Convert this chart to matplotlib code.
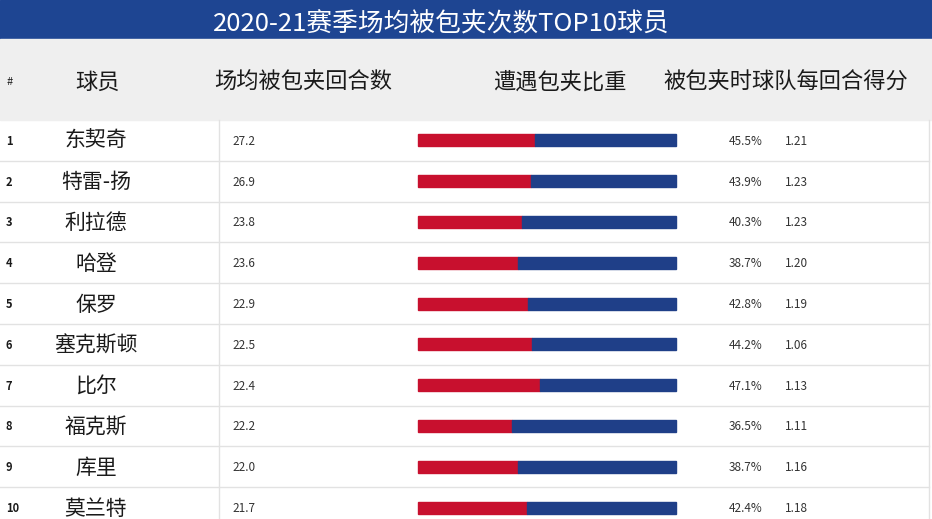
import matplotlib
matplotlib.use("Agg")
import matplotlib.pyplot as plt
from matplotlib.patches import Rectangle

plt.rcParams['font.family'] = ['Noto Sans CJK SC', 'DejaVu Sans']

title = '2020-21赛季场均被包夹次数TOP10球员'
headers = ['#', '球员', '场均被包夹回合数', '遭遇包夹比重', '被包夹时球队每回合得分']
ranks = [1, 2, 3, 4, 5, 6, 7, 8, 9, 10]
players = ['东契奇', '特雷-扬', '利拉德', '哈登', '保罗', '塞克斯顿', '比尔', '福克斯', '库里', '莫兰特']
double_poss = [27.2, 26.9, 23.8, 23.6, 22.9, 22.5, 22.4, 22.2, 22.0, 21.7]
double_pct = [45.5, 43.9, 40.3, 38.7, 42.8, 44.2, 47.1, 36.5, 38.7, 42.4]
team_ppp = [1.21, 1.23, 1.23, 1.20, 1.19, 1.06, 1.13, 1.11, 1.16, 1.18]

W, H = 932, 519
RED = '#c8102e'
BLUE = '#1f3f88'
LINE = '#e2e2e2'
TXT = '#1a1a1a'

fig = plt.figure(figsize=(W / 100, H / 100), dpi=100)
ax = fig.add_axes([0, 0, 1, 1])
ax.set_xlim(0, W)
ax.set_ylim(H, 0)
ax.axis('off')

# title bar + header band
ax.add_patch(Rectangle((0, 0), W, 39, color='#1e4592', zorder=1))
ax.add_patch(Rectangle((0, 39), W, 81, color='#efefef', zorder=1))
ax.text(441, 25, title, color='white', fontsize=18.5, ha='center', va='center')

hy = 82
ax.text(7, hy, headers[0], fontsize=8, color=TXT, ha='left', va='center')
ax.text(98, hy, headers[1], fontsize=16, color=TXT, ha='center', va='center')
ax.text(214, hy, headers[2], fontsize=16, color=TXT, ha='left', va='center')
ax.text(493, hy, headers[3], fontsize=16, color=TXT, ha='left', va='center')
ax.text(663, hy, headers[4], fontsize=16, color=TXT, ha='left', va='center')

top = 120
rh = 40.8
bar_x0, bar_w, bar_h = 418, 258, 12

for i in range(len(players)):
    y0 = top + i * rh
    yc = y0 + rh / 2
    if i > 0:
        ax.plot([0, 929], [y0, y0], color=LINE, lw=1, zorder=2)
    ax.text(6, yc + 1, str(ranks[i]), fontsize=8, color=TXT, ha='left', va='center',
            fontweight='bold')
    ax.text(96, yc + 1, players[i], fontsize=15, color=TXT, ha='center', va='center',
            fontweight='medium')
    ax.text(232, yc + 1, f'{double_poss[i]:.1f}', fontsize=8.5, color='#333333', ha='left', va='center')
    frac = double_pct[i] / 100
    ax.add_patch(Rectangle((bar_x0, yc - bar_h / 2), bar_w * frac, bar_h, color=RED, zorder=3))
    ax.add_patch(Rectangle((bar_x0 + bar_w * frac, yc - bar_h / 2), bar_w * (1 - frac), bar_h,
                           color=BLUE, zorder=3))
    ax.text(729, yc + 1, f'{double_pct[i]:.1f}%', fontsize=8.5, color='#333333', ha='left', va='center')
    ax.text(785, yc + 1, f'{team_ppp[i]:.2f}', fontsize=8.5, color='#333333', ha='left', va='center')

ax.plot([219, 219], [top, H], color=LINE, lw=1, zorder=2)
ax.plot([929, 929], [top, H], color=LINE, lw=1, zorder=2)

fig.savefig('out.png', dpi=100)
